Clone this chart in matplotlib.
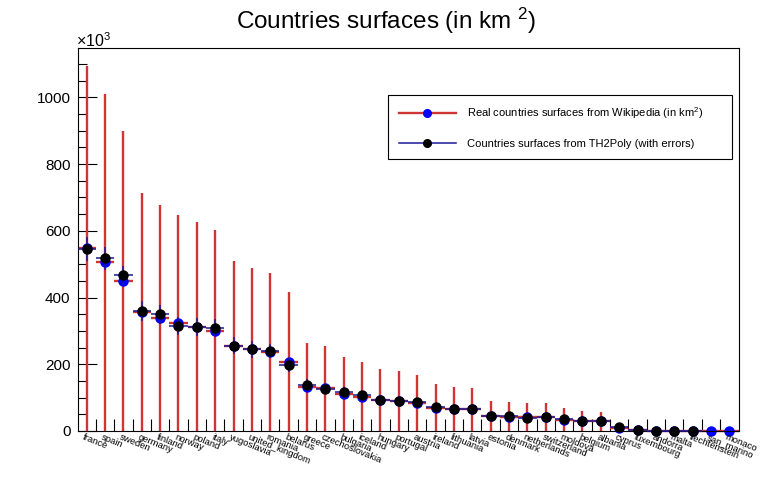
import numpy as np
import matplotlib
matplotlib.use("Agg")
import matplotlib.pyplot as plt
from matplotlib.lines import Line2D
from matplotlib.transforms import blended_transform_factory

plt.rcParams['font.family'] = ['Liberation Sans', 'DejaVu Sans']
plt.rcParams['mathtext.fontset'] = 'custom'
plt.rcParams['mathtext.rm'] = 'Liberation Sans'
plt.rcParams['mathtext.it'] = 'Liberation Sans'

countries = ["france", "spain", "sweden", "germany", "finland",
             "norway", "poland", "italy", "yugoslavia", "united_kingdom",
             "romania", "belarus", "greece", "czechoslovakia", "bulgaria",
             "iceland", "hungary", "portugal", "austria", "ireland",
             "lithuania", "latvia", "estonia", "denmark", "netherlands",
             "switzerland", "moldova", "belgium", "albania", "cyprus",
             "luxembourg", "andorra", "malta", "liechtenstein", "san_marino",
             "monaco"]

# surfaces in 10^3 km2
real_surf = [547.030, 505.580, 449.964, 357.021, 338.145,
             324.220, 312.685, 301.230, 255.438, 244.820,
             237.500, 207.600, 131.940, 127.711, 110.910,
             103.000, 93.030, 89.242, 83.870, 70.280,
             65.200, 64.589, 45.226, 43.094, 41.526,
             41.290, 33.843, 30.528, 28.748, 9.250,
             2.586, 0.468, 0.316, 0.160, 0.061,
             0.002]
# red error bars go from 0 up to twice the value
real_err = real_surf

poly_surf = [546, 518, 467, 359, 350,
             315, 312, 310, 256, 245,
             240, 198, 139, 127, 116,
             107, 93, 90, 86, 72,
             66, 66, 45, 45, 40,
             43, 36, 30, 30, 11,
             2.5, 0.5, 0.3, 0.2, np.nan,
             np.nan]
poly_err = [36, 35, 28, 30, 28,
            28, 28, 25, 25, 25,
            22, 20, 17, 15, 15,
            14, 13, 13, 13, 12,
            11, 11, 9, 9, 8,
            8, 8, 7, 7, 4,
            2, 1, 1, 0.5, np.nan,
            np.nan]

red = '#d03434'
navy = '#1a1a99'

fig = plt.figure(figsize=(7.76, 4.78), dpi=100)
ax = fig.add_axes([77.5 / 776, 47 / 478, 661 / 776, 383 / 478])

x = np.arange(len(countries)) + 0.5
ax.errorbar(x, real_surf, xerr=0.5, yerr=real_err, fmt='o', ms=6.5,
            mfc='#0000ff', mec='#0000ff', ecolor=red, elinewidth=1.7,
            capsize=0, clip_on=False, zorder=2)
ax.errorbar(x, poly_surf, xerr=0.5, yerr=poly_err, fmt='o', ms=6.5,
            mfc='black', mec='black', ecolor=navy, elinewidth=1.1,
            capsize=0, clip_on=False, zorder=3)

ax.set_xlim(0, len(countries))
ax.set_ylim(0, 1148)

# bin edge ticks, labels at bin centres
ax.set_xticks(np.arange(1, len(countries)))
ax.set_xticklabels([])
ax.tick_params(axis='x', direction='in', length=8.6, width=0.8, top=False)
ax.set_yticks(np.arange(0, 1001, 200))
ax.set_yticks(np.arange(0, 1148, 50), minor=True)
ax.tick_params(axis='y', which='major', direction='in', length=13.7,
               width=0.8, labelsize=11, pad=5)
ax.tick_params(axis='y', which='minor', direction='in', length=6.8, width=0.8)
for s in ax.spines.values():
    s.set_linewidth(0.8)

trans = blended_transform_factory(ax.transData, ax.transAxes)
for xi, name in zip(x, countries):
    ax.text(xi - 0.1, -0.004, name, transform=trans, rotation=-22,
            rotation_mode='anchor', ha='left', va='top', fontsize=6.8)

fig.text(76 / 776, 1 - 47 / 478, r'$\times$10$^{3}$', fontsize=11.5,
         ha='left', va='baseline')
fig.text(386 / 776, 1 - 21 / 478, 'Countries surfaces (in km $^{2}$)',
         fontsize=17.5, ha='center', va='center')

handles = [Line2D([], [], color=red, lw=1.7, marker='o', ms=5.5,
                  mfc='#0000ff', mec='#0000ff'),
           Line2D([], [], color=navy, lw=1.1, marker='o', ms=5.5,
                  mfc='black', mec='black')]
labels = ['Real countries surfaces from Wikipedia (in km$^{2}$)',
          'Countries surfaces from TH2Poly (with errors)']
leg = ax.legend(handles, labels, loc='upper left', mode='expand',
                bbox_to_anchor=(388 / 776, 1 - 157 / 478, 344 / 776, 62 / 478),
                bbox_transform=fig.transFigure, fontsize=8,
                handlelength=5.2, handletextpad=0.95, labelspacing=1.55,
                borderpad=0.95, borderaxespad=0, fancybox=False,
                framealpha=1, edgecolor='black')
leg.get_frame().set_linewidth(0.8)

fig.savefig('out.png', dpi=100)
